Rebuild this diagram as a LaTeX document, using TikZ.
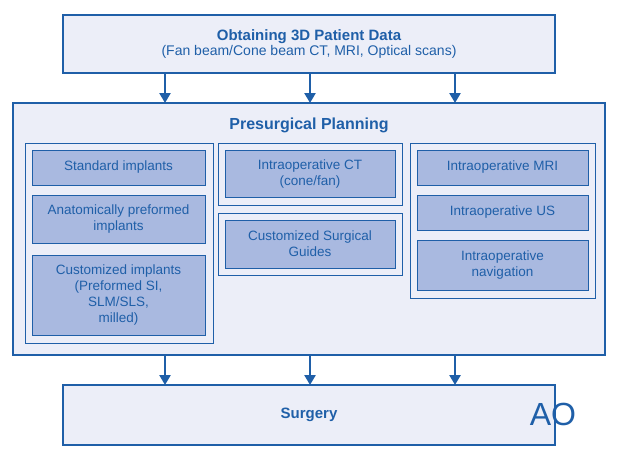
\documentclass[tikz,border=0pt]{standalone}
\usepackage{fontspec}
\setmainfont{Liberation Sans}
\usetikzlibrary{arrows.meta}
\definecolor{aoblue}{HTML}{1F5FA8}
\definecolor{aofill}{HTML}{ECEEF8}
\definecolor{aoinner}{HTML}{A9B9E0}
\begin{document}
\begin{tikzpicture}[
  x=1pt,y=-1pt,
  every node/.style={align=center,text=aoblue},
  frame/.style={draw=aoblue,line width=2.5pt,fill=aofill,inner sep=0pt},
  panel/.style={draw=aoblue,line width=0.8pt,fill=aofill,inner sep=0pt},
  item/.style={draw=aoblue,line width=1pt,fill=aoinner,inner sep=0pt,font=\fontsize{13.5}{16}\selectfont},
  to/.style={-{Triangle[length=10pt,width=11pt]},aoblue,line width=2.5pt}]
  \useasboundingbox (0,0) rectangle (620,459);

  % Frames
  \node[frame,minimum width=492,minimum height=58] (data) at (309,44)
    {{\bfseries\fontsize{15}{18}\selectfont Obtaining 3D Patient Data}\\[1pt]{\fontsize{14}{17}\selectfont(Fan beam/Cone beam CT, MRI, Optical scans)}};
  \node[frame,minimum width=592,minimum height=252] (plan) at (309,229) {};
  \node[font=\bfseries\fontsize{16}{19}\selectfont] (plantitle) at (309,125) {Presurgical Planning};
  \node[frame,minimum width=492,minimum height=60] (surg) at (309,415)
    {\bfseries\fontsize{15}{18}\selectfont Surgery};
  \node[font=\fontsize{32}{32}\selectfont,inner sep=0pt] (logo) at (553,414) {AO};

  % Panels
  \node[panel,minimum width=188,minimum height=200] (left) at (119,243) {};
  \node[panel,minimum width=184,minimum height=62] (ct) at (310,174) {};
  \node[panel,minimum width=184,minimum height=62] (guide) at (310,244) {};
  \node[panel,minimum width=185,minimum height=155] (right) at (502.5,220.5) {};

  % Items
  \node[item,minimum width=173,minimum height=35] (std) at (118.5,167.5) {Standard implants};
  \node[item,minimum width=173,minimum height=48] (anat) at (118.5,219) {Anatomically preformed\\implants};
  \node[item,minimum width=173,minimum height=80] (cust) at (118.5,295) {Customized implants\\(Preformed SI,\\SLM/SLS,\\milled)};
  \node[item,minimum width=170,minimum height=47] (ctbox) at (310,173.5) {Intraoperative CT\\(cone/fan)};
  \node[item,minimum width=170,minimum height=48] (guidebox) at (310,244) {Customized Surgical\\Guides};
  \node[item,minimum width=171,minimum height=35] (mri) at (502.5,167.5) {Intraoperative MRI};
  \node[item,minimum width=171,minimum height=35] (us) at (502.5,212.5) {Intraoperative US};
  \node[item,minimum width=171,minimum height=50] (nav) at (502.5,265) {Intraoperative\\navigation};

  % Arrows
  \foreach \x in {165,310,455}{
    \coordinate (a\x) at (\x,73);
    \coordinate (b\x) at (\x,103);
    \coordinate (c\x) at (\x,355);
    \coordinate (d\x) at (\x,385);
    \draw[to] (a\x) -- (b\x);
    \draw[to] (c\x) -- (d\x);
  }
\end{tikzpicture}
\end{document}
